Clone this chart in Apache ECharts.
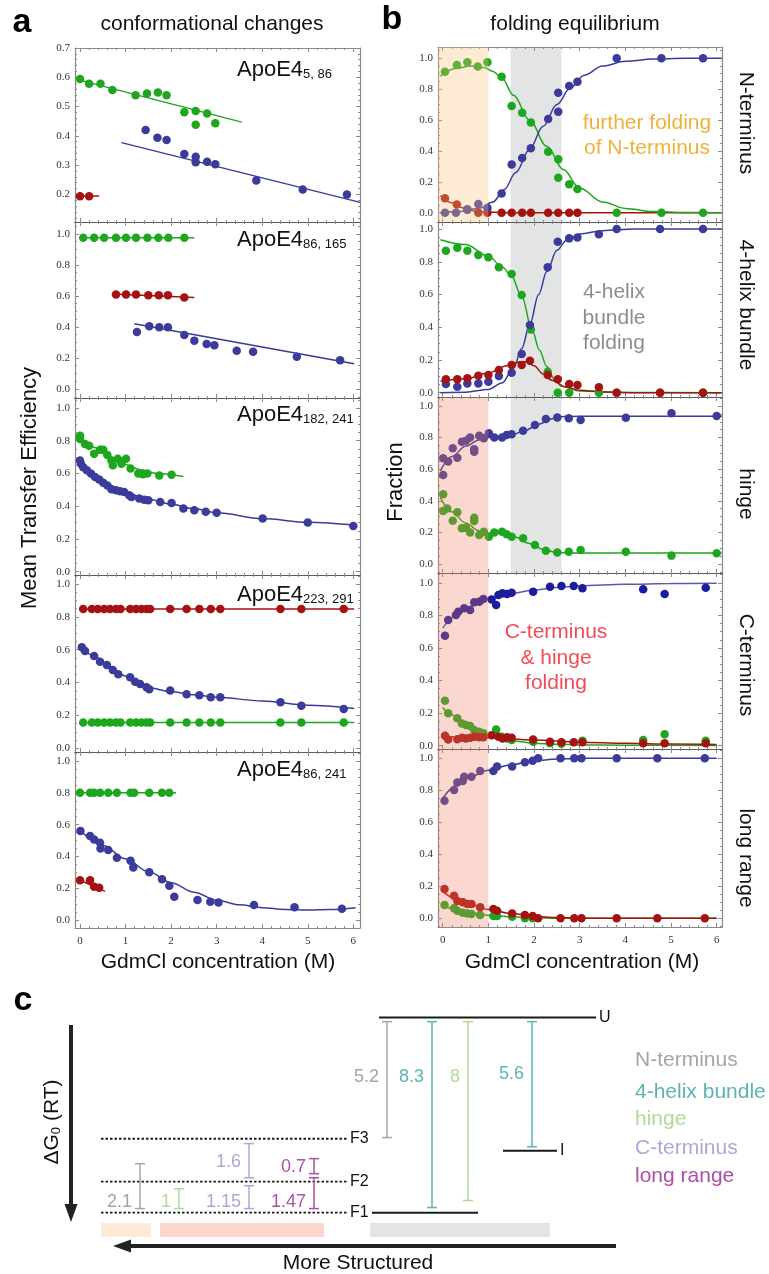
<!DOCTYPE html>
<html>
<head>
<meta charset="utf-8">
<script src="https://cdn.jsdelivr.net/npm/echarts@6/dist/echarts.min.js"></script>
<style>
html, body { margin: 0; background: #fff; }
#chart { width: 769px; height: 1274px; }
</style>
</head>
<body>
<div id="chart"></div>
<script>
// ---- panel a: mean transfer efficiency vs GdmCl (M) ----
const a1Green = [[0,0.594],[0.2,0.578],[0.45,0.578],[0.71,0.557],[1.22,0.539],[1.47,0.545],[1.71,0.548],[1.9,0.539],[2.29,0.481],[2.54,0.485],[2.54,0.438],[2.79,0.476],[2.97,0.443]]
const a1GreenFit = [[-0.05,0.592],[3.55,0.447]]
const a1Blue = [[1.44,0.42],[1.7,0.394],[1.9,0.386],[2.29,0.338],[2.54,0.329],[2.54,0.31],[2.79,0.312],[2.97,0.303],[3.87,0.248],[4.89,0.217],[5.86,0.2]]
const a1BlueFit = [[0.91,0.377],[6.15,0.173]]
const a1Red = [[0,0.194],[0.2,0.194]]
const a1RedFit = [[-0.05,0.195],[0.42,0.195]]

const a2Green = [[0.07,0.975],[0.31,0.975],[0.53,0.975],[0.79,0.975],[1.01,0.975],[1.23,0.975],[1.48,0.975],[1.72,0.975],[1.94,0.975],[2.29,0.975]]
const a2GreenFit = [[0,0.975],[2.51,0.975]]
const a2Red = [[0.79,0.61],[1.01,0.61],[1.23,0.61],[1.5,0.605],[1.73,0.605],[1.93,0.605],[2.29,0.59]]
const a2RedFit = [[0.7,0.612],[2.51,0.59]]
const a2Blue = [[1.25,0.368],[1.52,0.405],[1.74,0.398],[1.93,0.398],[2.29,0.348],[2.51,0.312],[2.78,0.29],[2.95,0.282],[3.44,0.247],[3.8,0.241],[4.76,0.208],[5.71,0.185]]
const a2BlueFit = [[1.19,0.421],[6.02,0.163]]

const a3Green = [[0,0.83],[0,0.81],[0.11,0.78],[0.2,0.77],[0.31,0.72],[0.44,0.745],[0.51,0.745],[0.6,0.713],[0.69,0.68],[0.72,0.65],[0.83,0.69],[0.91,0.66],[1.01,0.69],[1.11,0.63],[1.28,0.6],[1.38,0.595],[1.48,0.6],[1.74,0.588],[2.01,0.592]]
const a3GreenFit = [[0,0.82],[0.3,0.76],[0.6,0.71],[1,0.655],[1.3,0.625],[1.7,0.6],[2.27,0.582]]
const a3Blue = [[0,0.68],[0.02,0.66],[0.07,0.638],[0.15,0.62],[0.24,0.6],[0.33,0.578],[0.42,0.564],[0.51,0.544],[0.6,0.527],[0.69,0.503],[0.79,0.497],[0.88,0.491],[0.97,0.487],[1.08,0.467],[1.13,0.456],[1.3,0.447],[1.41,0.44],[1.5,0.436],[1.76,0.426],[2.01,0.42],[2.27,0.386],[2.51,0.376],[2.76,0.366],[3,0.36],[4.01,0.325],[5,0.3],[6,0.279]]
const a3BlueFit = [[0,0.672],[0.3,0.59],[0.6,0.535],[1,0.482],[1.5,0.442],[2,0.412],[2.5,0.384],[3,0.36],[4,0.325],[5,0.302],[6.05,0.284]]

const a4Red = [[0.07,0.848],[0.26,0.848],[0.39,0.848],[0.53,0.848],[0.66,0.848],[0.79,0.848],[0.89,0.848],[1.1,0.848],[1.23,0.848],[1.35,0.848],[1.46,0.848],[1.54,0.848],[1.98,0.848],[2.34,0.848],[2.62,0.848],[2.87,0.848],[3.08,0.848],[4.4,0.848],[4.86,0.848],[5.79,0.848]]
const a4RedFit = [[0,0.848],[6.02,0.848]]
const a4Green = [[0.07,0.156],[0.26,0.156],[0.39,0.156],[0.53,0.156],[0.66,0.156],[0.79,0.156],[0.89,0.156],[1.1,0.156],[1.23,0.156],[1.35,0.156],[1.46,0.156],[1.54,0.156],[1.98,0.156],[2.34,0.156],[2.62,0.156],[2.87,0.156],[3.08,0.156],[4.4,0.156],[4.86,0.156],[5.79,0.156]]
const a4GreenFit = [[0,0.156],[6.02,0.156]]
const a4Blue = [[0.04,0.615],[0.11,0.592],[0.31,0.562],[0.44,0.527],[0.59,0.507],[0.72,0.477],[0.84,0.45],[1.1,0.432],[1.21,0.405],[1.32,0.391],[1.46,0.371],[1.52,0.359],[1.98,0.351],[2.34,0.329],[2.62,0.322],[2.87,0.31],[3.08,0.31],[4.4,0.28],[4.86,0.259],[5.79,0.239]]
const a4BlueFit = [[0,0.62],[0.3,0.565],[0.6,0.505],[1,0.44],[1.5,0.368],[2,0.345],[2.5,0.325],[3,0.31],[4,0.288],[5,0.262],[6.02,0.242]]

const a5Green = [[0,0.8],[0.22,0.8],[0.31,0.8],[0.44,0.8],[0.62,0.8],[0.81,0.8],[1.11,0.8],[1.19,0.8],[1.52,0.8],[1.8,0.8],[1.96,0.8]]
const a5GreenFit = [[0,0.8],[2.11,0.8]]
const a5Red = [[0,0.25],[0.22,0.25],[0.31,0.21],[0.42,0.203]]
const a5RedFit = [[0,0.25],[0.55,0.18]]
const a5Blue = [[0.01,0.56],[0.22,0.528],[0.31,0.507],[0.44,0.486],[0.45,0.45],[0.62,0.44],[0.81,0.392],[1.11,0.373],[1.17,0.331],[1.52,0.3],[1.8,0.256],[1.96,0.216],[2.07,0.147],[2.58,0.126],[2.86,0.115],[3.04,0.111],[3.82,0.094],[4.71,0.08],[5.75,0.071]]
const a5BlueFit = [[0,0.565],[0.5,0.47],[1,0.385],[1.5,0.305],[2,0.235],[2.5,0.175],[3,0.125],[3.5,0.096],[4,0.078],[4.5,0.067],[5,0.063],[5.5,0.066],[6.05,0.078]]

// ---- panel b: fractions vs GdmCl (M) ----
const b1Green = [[0.05,0.913],[0.31,0.957],[0.54,0.974],[0.77,0.946],[0.98,0.974],[1.29,0.881],[1.51,0.691],[1.74,0.648],[1.93,0.585],[2.31,0.395],[2.53,0.346],[2.53,0.227],[2.77,0.184],[2.95,0.153],[3.81,0],[4.79,0],[5.7,0]]
const b1GreenFit = [[-0.05,0.885],[0.3,0.935],[0.6,0.95],[0.9,0.94],[1.1,0.915],[1.3,0.87],[1.55,0.76],[1.9,0.6],[2.28,0.43],[2.64,0.28],[3,0.16],[3.5,0.07],[4,0.028],[4.6,0.008],[5.3,0.002],[6.11,0]]
const b1Blue = [[0.05,0],[0.29,0],[0.54,0.022],[0.78,0.056],[0.98,0.03],[1.29,0.125],[1.51,0.313],[1.74,0.354],[1.93,0.417],[2.31,0.607],[2.53,0.654],[2.53,0.777],[2.77,0.82],[2.95,0.848],[3.81,1],[4.79,1],[5.7,1]]
const b1BlueFit = [[-0.05,0],[0.4,0.008],[0.8,0.03],[1.1,0.07],[1.35,0.15],[1.6,0.26],[1.9,0.41],[2.2,0.56],[2.5,0.7],[2.8,0.81],[3.1,0.89],[3.5,0.95],[4,0.98],[4.6,0.995],[5.3,1],[6.11,1]]
const b1Red = [[0.05,0.093],[0.31,0.054],[0.54,0.02],[0.78,0],[0.98,0],[1.29,0],[1.51,0],[1.74,0],[1.93,0],[2.31,0],[2.53,0],[2.77,0],[2.95,0]]
const b1RedFit = [[-0.05,0.11],[0.2,0.065],[0.45,0.03],[0.7,0.012],[1,0.004],[1.5,0],[6.11,0]]

const b2Green = [[0.07,0.868],[0.32,0.886],[0.54,0.868],[0.78,0.841],[1,0.827],[1.23,0.766],[1.51,0.725],[1.73,0.597],[1.93,0.387],[2.3,0.128],[2.52,0],[2.77,0],[3.42,0],[3.81,0],[4.76,0],[5.7,0]]
const b2GreenFit = [[-0.05,0.935],[0.5,0.905],[1,0.835],[1.3,0.77],[1.5,0.715],[1.73,0.59],[1.96,0.38],[2.12,0.26],[2.28,0.16],[2.45,0.08],[2.6,0.04],[3,0.01],[4,0.002],[6.11,0]]
const b2Blue = [[0.07,0.053],[0.32,0.037],[0.54,0.057],[0.78,0.057],[1,0.067],[1.23,0.102],[1.51,0.122],[1.73,0.236],[1.91,0.414],[2.3,0.766],[2.52,0.922],[2.77,0.943],[2.95,0.949],[3.42,0.968],[3.81,1],[4.76,1],[5.7,1]]
const b2BlueFit = [[-0.05,0],[0.5,0.003],[1,0.02],[1.3,0.06],[1.55,0.15],[1.73,0.27],[1.91,0.42],[2.1,0.6],[2.28,0.74],[2.5,0.87],[2.71,0.93],[3,0.97],[3.5,0.99],[4.2,1],[6.11,1]]
const b2Red = [[0.07,0.082],[0.32,0.082],[0.54,0.088],[0.78,0.104],[1,0.108],[1.23,0.139],[1.51,0.169],[1.73,0.169],[1.91,0.196],[2.3,0.108],[2.52,0.082],[2.77,0.053],[2.95,0.047],[3.42,0.033],[3.81,0],[4.76,0],[5.7,0]]
const b2RedFit = [[-0.05,0.07],[0.5,0.085],[1,0.12],[1.4,0.165],[1.7,0.19],[1.85,0.188],[2,0.165],[2.2,0.115],[2.4,0.075],[2.7,0.035],[3,0.015],[3.5,0.005],[4.2,0],[6.11,0]]

const b3Blue = [[0.01,0.563],[0.01,0.669],[0.12,0.648],[0.22,0.732],[0.32,0.673],[0.42,0.774],[0.51,0.78],[0.6,0.8],[0.69,0.726],[0.69,0.711],[0.8,0.812],[0.9,0.796],[1.01,0.827],[1.13,0.8],[1.3,0.8],[1.4,0.816],[1.51,0.821],[1.76,0.844],[2.02,0.88],[2.26,0.918],[2.51,0.928],[2.76,0.922],[3.02,0.911],[4.01,0.926],[5.01,0.954],[6,0.937]]
const b3BlueFit = [[-0.05,0.59],[0.2,0.68],[0.5,0.745],[0.8,0.785],[1,0.8],[1.2,0.802],[1.5,0.815],[1.8,0.845],[2.1,0.885],[2.4,0.92],[2.65,0.933],[3,0.935],[6.11,0.935]]
const b3Green = [[0.01,0.441],[0.01,0.335],[0.1,0.352],[0.22,0.274],[0.32,0.327],[0.42,0.226],[0.51,0.23],[0.6,0.2],[0.69,0.293],[0.69,0.272],[0.8,0.184],[0.9,0.204],[1.01,0.173],[1.13,0.2],[1.3,0.204],[1.4,0.188],[1.51,0.173],[1.76,0.163],[2.02,0.12],[2.26,0.084],[2.51,0.072],[2.76,0.078],[3.02,0.089],[4.01,0.078],[5.01,0.053],[6,0.068]]
const b3GreenFit = [[-0.05,0.42],[0.2,0.33],[0.5,0.26],[0.8,0.21],[1,0.195],[1.3,0.195],[1.6,0.17],[1.9,0.13],[2.2,0.092],[2.5,0.073],[2.8,0.07],[6.11,0.07]]

const b4Blue = [[0.05,0.675],[0.12,0.771],[0.29,0.802],[0.34,0.822],[0.47,0.843],[0.6,0.833],[0.69,0.88],[0.8,0.883],[0.89,0.9],[1.07,0.898],[1.17,0.863],[1.22,0.925],[1.31,0.935],[1.41,0.931],[1.51,0.939],[1.98,0.945],[2.35,0.975],[2.6,0.98],[2.87,0.98],[3.06,0.966],[4.39,0.961],[4.86,0.931],[5.76,0.969]]
const b4BlueFit = [[0,0.722],[0.3,0.8],[0.6,0.855],[1,0.9],[1.5,0.935],[2,0.956],[2.5,0.971],[3,0.981],[4,0.991],[5,0.995],[6,0.997]]
const b4Green = [[0.05,0.276],[0.12,0.2],[0.32,0.168],[0.42,0.137],[0.51,0.127],[0.6,0.121],[0.69,0.096],[0.8,0.086],[0.89,0.076],[1.17,0.1],[1.29,0.055],[1.41,0.045],[1.51,0.035],[1.98,0.025],[2.35,0.015],[2.6,0.012],[3.06,0.03],[4.39,0.035],[4.86,0.07],[5.76,0.03]]
const b4GreenFit = [[0,0.235],[0.2,0.19],[0.4,0.15],[0.6,0.115],[0.8,0.085],[1,0.062],[1.3,0.04],[1.6,0.027],[2,0.016],[2.5,0.009],[3,0.005],[4,0.003],[6,0.002]]
const b4Red = [[0.05,0.061],[0.12,0.039],[0.32,0.04],[0.42,0.049],[0.51,0.045],[0.6,0.049],[0.69,0.055],[0.8,0.052],[0.89,0.052],[1.07,0.064],[1.22,0.055],[1.31,0.045],[1.41,0.052],[1.51,0.049],[1.98,0.039],[2.35,0.025],[2.6,0.021],[2.87,0.021],[3.06,0.021],[4.39,0.016],[4.86,0.016],[5.76,0.016]]
const b4RedFit = [[0,0.055],[1,0.05],[2,0.035],[3,0.022],[4,0.015],[5,0.01],[6,0.007]]

const b5Blue = [[0.04,0.735],[0.25,0.802],[0.32,0.848],[0.44,0.858],[0.47,0.885],[0.63,0.885],[0.82,0.921],[1.11,0.921],[1.19,0.948],[1.52,0.948],[1.8,0.975],[1.97,0.985],[2.09,1],[2.58,1],[2.88,1],[3.04,1],[3.81,1],[4.7,1],[5.74,1]]
const b5BlueFit = [[0,0.75],[0.3,0.83],[0.6,0.885],[1,0.925],[1.5,0.96],[2,0.985],[2.5,0.995],[3,1],[6,1]]
const b5Red = [[0.04,0.183],[0.25,0.141],[0.32,0.108],[0.44,0.1],[0.54,0.089],[0.63,0.089],[0.82,0.069],[1.11,0.058],[1.19,0.048],[1.52,0.031],[1.8,0.021],[1.97,0.014],[2.09,0],[2.58,0],[2.88,0],[3.04,0],[3.81,0],[4.7,0],[5.74,0]]
const b5RedFit = [[0,0.17],[0.3,0.12],[0.6,0.085],[1,0.055],[1.5,0.03],[2,0.012],[2.5,0.005],[3,0.002],[3.5,0],[6,0]]
const b5Green = [[0.04,0.083],[0.25,0.063],[0.32,0.048],[0.44,0.035],[0.54,0.031],[0.63,0.027],[0.82,0.021],[1.11,0.014],[1.19,0.014],[1.52,0.01],[1.8,0],[1.97,0]]
const b5GreenFit = [[0,0.08],[0.3,0.055],[0.6,0.035],[1,0.02],[1.5,0.01],[2,0.005],[2.5,0.001],[6,0]]

// shaded GdmCl ranges
const orangeBand = [-0.2, 1.0]
const grayBand = [1.49, 2.6]
const pinkBand = [-0.2, 1.0]

// ticks
const xTicks = [0, 1, 2, 3, 4, 5, 6]
const xMinorTicks = [0.2,0.4,0.6,0.8,1.2,1.4,1.6,1.8,2.2,2.4,2.6,2.8,3.2,3.4,3.6,3.8,4.2,4.4,4.6,4.8,5.2,5.4,5.6,5.8]
const yTicks = [0, 0.2, 0.4, 0.6, 0.8, 1.0]
const yMinorTicks = [-0.05,0.05,0.1,0.15,0.25,0.3,0.35,0.45,0.5,0.55,0.65,0.7,0.75,0.85,0.9,0.95,1.05]
const yTicksA1 = [0.2, 0.3, 0.4, 0.5, 0.6, 0.7]
const yMinorTicksA1 = [0.12,0.14,0.16,0.18,0.22,0.24,0.26,0.28,0.32,0.34,0.36,0.38,0.42,0.44,0.46,0.48,0.52,0.54,0.56,0.58,0.62,0.64,0.66,0.68]

// ---- panel c: free energy diagram (RT) ----
const levelNames = ['U', 'F3', 'I', 'F2', 'F1', '']
const levelEnergy = [10.0, 3.79, 3.18, 1.59, 0, 0]
const dGLabels = ['5.2', '8.3', '8', '5.6', '2.1', '1', '1.6', '1.15', '0.7', '1.47']
const dGLow = [3.85, 0.26, 0.62, 3.38, 0.21, 0.21, 1.79, 0.21, 2.0, 0.21]
const dGHigh = [9.79, 9.79, 9.79, 9.79, 2.51, 1.23, 3.54, 1.38, 2.77, 1.79]
const dGDomain = [0, 1, 2, 1, 0, 2, 3, 3, 4, 4]
const domainNames = ['N-terminus', '4-helix bundle', 'hinge', 'C-terminus', 'long range']

// layout of the diagram (pixels / energy positions of labels)
const levelX = [[379, 596], [101, 347], [503, 557], [101, 347], [101, 347], [372, 478]]
const levelDashed = [false, true, false, true, true, false]
const dGX = [387, 432, 468, 532, 140, 179, 249, 249, 314, 314]
const dGLabelE = [6.97, 6.97, 6.97, 7.13, 0.56, 0.56, 2.62, 0.56, 2.36, 0.56]

const GREEN = '#1ea61e'
const BLUE = '#3b3b9b'
const RED = '#a61212'
const CBLUE = '#1c1c9e'
const FRAME = '#8a8a8a'
const domainColors = ['#a4a4a4', '#5db3b3', '#b3d898', '#a9a9d8', '#ad4fa7']
const SANS = "'Liberation Sans', Arial, sans-serif"
const SERIF = "'Liberation Serif', 'Times New Roman', serif"

const AX = [-0.11, 6.147]
const BX = [-0.103, 6.116]
const A1 = { yt: yTicksA1, ym: yMinorTicksA1 }
const STD = { yt: yTicks, ym: yMinorTicks }
const ORANGE_OVER = 'rgba(250,195,120,0.33)'
const PINK_OVER = 'rgba(242,125,95,0.30)'
const GRAY_BACK = '#e3e5e4'

const panels = [
  { box: [75, 48, 285, 174], x: AX, y: [0.106, 0.7], t: A1, xl: false,
    fits: [[a1GreenFit, GREEN], [a1BlueFit, BLUE], [a1RedFit, RED]],
    dots: [[a1Green, GREEN], [a1Blue, BLUE], [a1Red, RED]], bands: [] },
  { box: [75, 222, 285, 176], x: AX, y: [-0.058, 1.077], t: STD, xl: false,
    fits: [[a2GreenFit, GREEN], [a2RedFit, RED], [a2BlueFit, BLUE]],
    dots: [[a2Green, GREEN], [a2Red, RED], [a2Blue, BLUE]], bands: [] },
  { box: [75, 398, 285, 177], x: AX, y: [-0.02, 1.061], t: STD, xl: false,
    fits: [[a3GreenFit, GREEN], [a3BlueFit, BLUE]],
    dots: [[a3Green, GREEN], [a3Blue, BLUE]], bands: [] },
  { box: [75, 575, 285, 177], x: AX, y: [-0.023, 1.055], t: STD, xl: false,
    fits: [[a4RedFit, RED], [a4GreenFit, GREEN], [a4BlueFit, BLUE]],
    dots: [[a4Red, RED], [a4Green, GREEN], [a4Blue, BLUE]], bands: [] },
  { box: [75, 752, 285, 176], x: AX, y: [-0.05, 1.057], t: STD, xl: true,
    fits: [[a5GreenFit, GREEN], [a5RedFit, RED], [a5BlueFit, BLUE]],
    dots: [[a5Green, GREEN], [a5Red, RED], [a5Blue, BLUE]], bands: [] },
  { box: [438, 47, 284, 175], x: BX, y: [-0.06, 1.073], t: STD, xl: false,
    fits: [[b1RedFit, RED], [b1GreenFit, GREEN], [b1BlueFit, BLUE]],
    dots: [[b1Red, RED], [b1Blue, BLUE], [b1Green, GREEN]],
    bands: [[grayBand, GRAY_BACK, 0], [orangeBand, ORANGE_OVER, 6]] },
  { box: [438, 222, 284, 175], x: BX, y: [-0.026, 1.043], t: STD, xl: false,
    fits: [[b2GreenFit, GREEN], [b2BlueFit, BLUE], [b2RedFit, RED]],
    dots: [[b2Green, GREEN], [b2Blue, BLUE], [b2Red, RED]],
    bands: [[grayBand, GRAY_BACK, 0]] },
  { box: [438, 397, 284, 176], x: BX, y: [-0.057, 1.057], t: STD, xl: false,
    fits: [[b3BlueFit, BLUE], [b3GreenFit, GREEN]],
    dots: [[b3Blue, BLUE], [b3Green, GREEN]],
    bands: [[grayBand, GRAY_BACK, 0], [pinkBand, PINK_OVER, 6]] },
  { box: [438, 573, 284, 176], x: BX, y: [-0.02, 1.06], t: STD, xl: false,
    fits: [[b4BlueFit, '#5a5aae'], [b4GreenFit, GREEN], [b4RedFit, RED]],
    dots: [[b4Blue, CBLUE], [b4Green, GREEN], [b4Red, RED]],
    bands: [[pinkBand, PINK_OVER, 6]] },
  { box: [438, 749, 284, 178], x: BX, y: [-0.054, 1.058], t: STD, xl: true,
    fits: [[b5BlueFit, BLUE], [b5GreenFit, GREEN], [b5RedFit, RED]],
    dots: [[b5Blue, BLUE], [b5Green, GREEN], [b5Red, RED]],
    bands: [[pinkBand, PINK_OVER, 6]] }
]

const grids = []
const xAxes = []
const yAxes = []
const series = []

const within = (vals, r) => vals.filter(v => v >= r[0] && v <= r[1])

function sideAxes(g, pos, range, major, minor, showLabel, fmt, lineColor) {
  const base = { type: 'value', gridIndex: g, position: pos, min: range[0], max: range[1], splitLine: { show: false } }
  return [
    { ...base,
      axisLine: { show: true, onZero: false, lineStyle: { color: lineColor, width: 1.2 } },
      axisTick: { show: true, inside: true, length: 4, customValues: major, lineStyle: { color: FRAME } },
      axisLabel: { show: showLabel, customValues: major, margin: pos === 'bottom' ? 8 : 5, fontFamily: SERIF, fontSize: 11, color: '#333', formatter: fmt } },
    { ...base,
      axisLine: { show: false, onZero: false },
      axisTick: { show: true, inside: true, length: 2, customValues: minor, lineStyle: { color: FRAME } },
      axisLabel: { show: false, customValues: minor } }
  ]
}

function bandSeries(g, band, color, z) {
  return {
    type: 'custom', xAxisIndex: 4 * g, yAxisIndex: 4 * g, z, silent: true,
    data: [band],
    renderItem(params, api) {
      const cs = params.coordSys
      const x0 = Math.max(api.coord([api.value(0), 0.5])[0], cs.x)
      const x1 = Math.min(api.coord([api.value(1), 0.5])[0], cs.x + cs.width)
      return { type: 'rect', shape: { x: x0, y: cs.y, width: x1 - x0, height: cs.height }, style: { fill: color } }
    }
  }
}

panels.forEach((p, g) => {
  grids.push({ left: p.box[0], top: p.box[1], width: p.box[2], height: p.box[3], outerBoundsMode: 'none' })
  const xm = within(xTicks, p.x), xn = within(xMinorTicks, p.x)
  const ym = within(p.t.yt, p.y), yn = within(p.t.ym, p.y)
  const fx = v => String(v), fy = v => v.toFixed(1)
  const outerTop = g === 0 || g === 5
  xAxes.push(...sideAxes(g, 'bottom', p.x, xm, xn, p.xl, fx, p.xl ? FRAME : '#5a5a5a'),
    ...sideAxes(g, 'top', p.x, xm, xn, false, fx, outerTop ? FRAME : '#5a5a5a'))
  yAxes.push(...sideAxes(g, 'left', p.y, ym, yn, true, fy, FRAME), ...sideAxes(g, 'right', p.y, ym, yn, false, fy, FRAME))
  p.bands.forEach(([band, color, z]) => series.push(bandSeries(g, band, color, z)))
  p.fits.forEach(([data, color]) => series.push({
    type: 'line', xAxisIndex: 4 * g, yAxisIndex: 4 * g, data, z: 2,
    showSymbol: false, smooth: 0.35, smoothMonotone: 'x', silent: true,
    lineStyle: { color, width: 1.5 }
  }))
  p.dots.forEach(([data, color]) => series.push({
    type: 'scatter', xAxisIndex: 4 * g, yAxisIndex: 4 * g, data, z: 3,
    symbolSize: 8.5, silent: true,
    itemStyle: { color, opacity: 1 }
  }))
})

// panel c grid (energy diagram)
const gc = grids.length
grids.push({ left: 0, top: 1000, width: 769, height: 240, outerBoundsMode: 'none' })
xAxes.push({ type: 'value', gridIndex: gc, min: 0, max: 769, show: false })
yAxes.push({ type: 'value', gridIndex: gc, min: -1.4, max: 10.9, show: false })
const cxi = xAxes.length - 1, cyi = yAxes.length - 1

levelNames.forEach((name, k) => {
  series.push({
    type: 'line', xAxisIndex: cxi, yAxisIndex: cyi, silent: true, showSymbol: false,
    data: [[levelX[k][0], levelEnergy[k]], [levelX[k][1], levelEnergy[k]]],
    lineStyle: { color: '#1a1a1a', width: levelDashed[k] ? 1.8 : 2, type: levelDashed[k] ? [2.5, 2] : 'solid' },
    endLabel: { show: name !== '', formatter: name, fontFamily: SANS, fontSize: 16, color: '#111', distance: 3 }
  })
})

series.push({
  type: 'custom', xAxisIndex: cxi, yAxisIndex: cyi, silent: true, z: 4,
  data: dGLabels.map((t, k) => [dGX[k], dGLow[k], dGHigh[k], dGLabelE[k], k]),
  renderItem(params, api) {
    const k = api.value(4)
    const col = domainColors[dGDomain[k]]
    const lo = api.coord([api.value(0), api.value(1)])
    const hi = api.coord([api.value(0), api.value(2)])
    const lab = api.coord([api.value(0), api.value(3)])
    const st = { stroke: col, lineWidth: 1.5 }
    return { type: 'group', children: [
      { type: 'line', shape: { x1: lo[0], y1: lo[1], x2: hi[0], y2: hi[1] }, style: st },
      { type: 'line', shape: { x1: lo[0] - 5, y1: lo[1], x2: lo[0] + 5, y2: lo[1] }, style: st },
      { type: 'line', shape: { x1: hi[0] - 5, y1: hi[1], x2: hi[0] + 5, y2: hi[1] }, style: st },
      { type: 'text', style: { text: dGLabels[k], x: lab[0] - 8, y: lab[1], align: 'right', verticalAlign: 'middle', fill: col, font: `18px ${SANS}` } }
    ] }
  }
})

// ---- texts and annotation shapes ----
function txt(x, y, text, o = {}) {
  return {
    type: 'text', x, y, rotation: o.rot || 0, z: 20, silent: true,
    style: {
      text, fill: o.color || '#111',
      font: `${o.weight || 'normal'} ${o.size || 21}px ${SANS}`,
      align: o.align || 'center', verticalAlign: o.va || 'middle',
      lineHeight: o.lh, rich: o.rich
    }
  }
}
const apoRich = { m: { fontSize: 22, fontFamily: SANS, fill: '#111' }, s: { fontSize: 13, fontFamily: SANS, fill: '#111', lineHeight: 8, verticalAlign: 'bottom' } }
const apo = (y, sub) => txt(237, y, `{m|ApoE4}{s|${sub}}`, { align: 'left', va: 'bottom', rich: apoRich })

const graphic = [
  txt(22, 23, 'a', { size: 34, weight: 'bold', color: '#000' }),
  txt(392, 20, 'b', { size: 34, weight: 'bold', color: '#000' }),
  txt(23, 1001, 'c', { size: 34, weight: 'bold', color: '#000' }),
  txt(212, 24, 'conformational changes'),
  txt(575, 24, 'folding equilibrium'),
  txt(30, 488, 'Mean Transfer Efficiency', { rot: Math.PI / 2, size: 22 }),
  txt(396, 482, 'Fraction', { rot: Math.PI / 2, size: 22 }),
  txt(218, 962, 'GdmCl concentration (M)'),
  txt(582, 962, 'GdmCl concentration (M)'),
  txt(746, 123, 'N-terminus', { rot: -Math.PI / 2 }),
  txt(746, 305, '4-helix bundle', { rot: -Math.PI / 2 }),
  txt(746, 494, 'hinge', { rot: -Math.PI / 2 }),
  txt(746, 665, 'C-terminus', { rot: -Math.PI / 2 }),
  txt(746, 858, 'long range', { rot: -Math.PI / 2 }),
  apo(81, '5, 86'),
  apo(251, '86, 165'),
  apo(426, '182, 241'),
  apo(606, '223, 291'),
  apo(781, '86, 241'),
  txt(647, 136, 'further folding\nof N-terminus', { color: '#efb13a', lh: 25 }),
  txt(614, 318, '4-helix\nbundle\nfolding', { color: '#8d8d8d', lh: 25.5 }),
  txt(556, 658, 'C-terminus\n& hinge\nfolding', { color: '#f04b57', lh: 25.5 }),
  txt(52, 1122, '{m|ΔG}{s|0}{m| (RT)}', { rot: Math.PI / 2, rich: { m: { fontSize: 21, fontFamily: SANS, fill: '#111' }, s: { fontSize: 13, fontFamily: SANS, fill: '#111', lineHeight: 8, verticalAlign: 'bottom' } } }),
  { type: 'line', z: 20, silent: true, shape: { x1: 71, y1: 1025, x2: 71, y2: 1208 }, style: { stroke: '#222', lineWidth: 4 } },
  { type: 'polygon', z: 20, silent: true, shape: { points: [[64.5, 1204], [77.5, 1204], [71, 1222]] }, style: { fill: '#222' } },
  { type: 'line', z: 20, silent: true, shape: { x1: 616, y1: 1246, x2: 126, y2: 1246 }, style: { stroke: '#222', lineWidth: 4 } },
  { type: 'polygon', z: 20, silent: true, shape: { points: [[113, 1246], [131, 1239.5], [131, 1252.5]] }, style: { fill: '#222' } },
  { type: 'rect', z: 20, silent: true, shape: { x: 101, y: 1223, width: 50, height: 14 }, style: { fill: '#fdebd6' } },
  { type: 'rect', z: 20, silent: true, shape: { x: 160, y: 1223, width: 164, height: 14 }, style: { fill: '#fbd7ce' } },
  { type: 'rect', z: 20, silent: true, shape: { x: 370, y: 1223, width: 180, height: 14 }, style: { fill: '#e3e5e4' } },
  txt(358, 1263, 'More Structured'),
  ...domainNames.map((n, k) => txt(635, [1060, 1092, 1119, 1148, 1176][k], n, { align: 'left', color: domainColors[k] }))
]

const chart = echarts.init(document.getElementById('chart'), null, { renderer: 'canvas' })
chart.setOption({
  animation: false,
  backgroundColor: '#fff',
  grid: grids,
  xAxis: xAxes,
  yAxis: yAxes,
  series,
  graphic
})
</script>
</body>
</html>
